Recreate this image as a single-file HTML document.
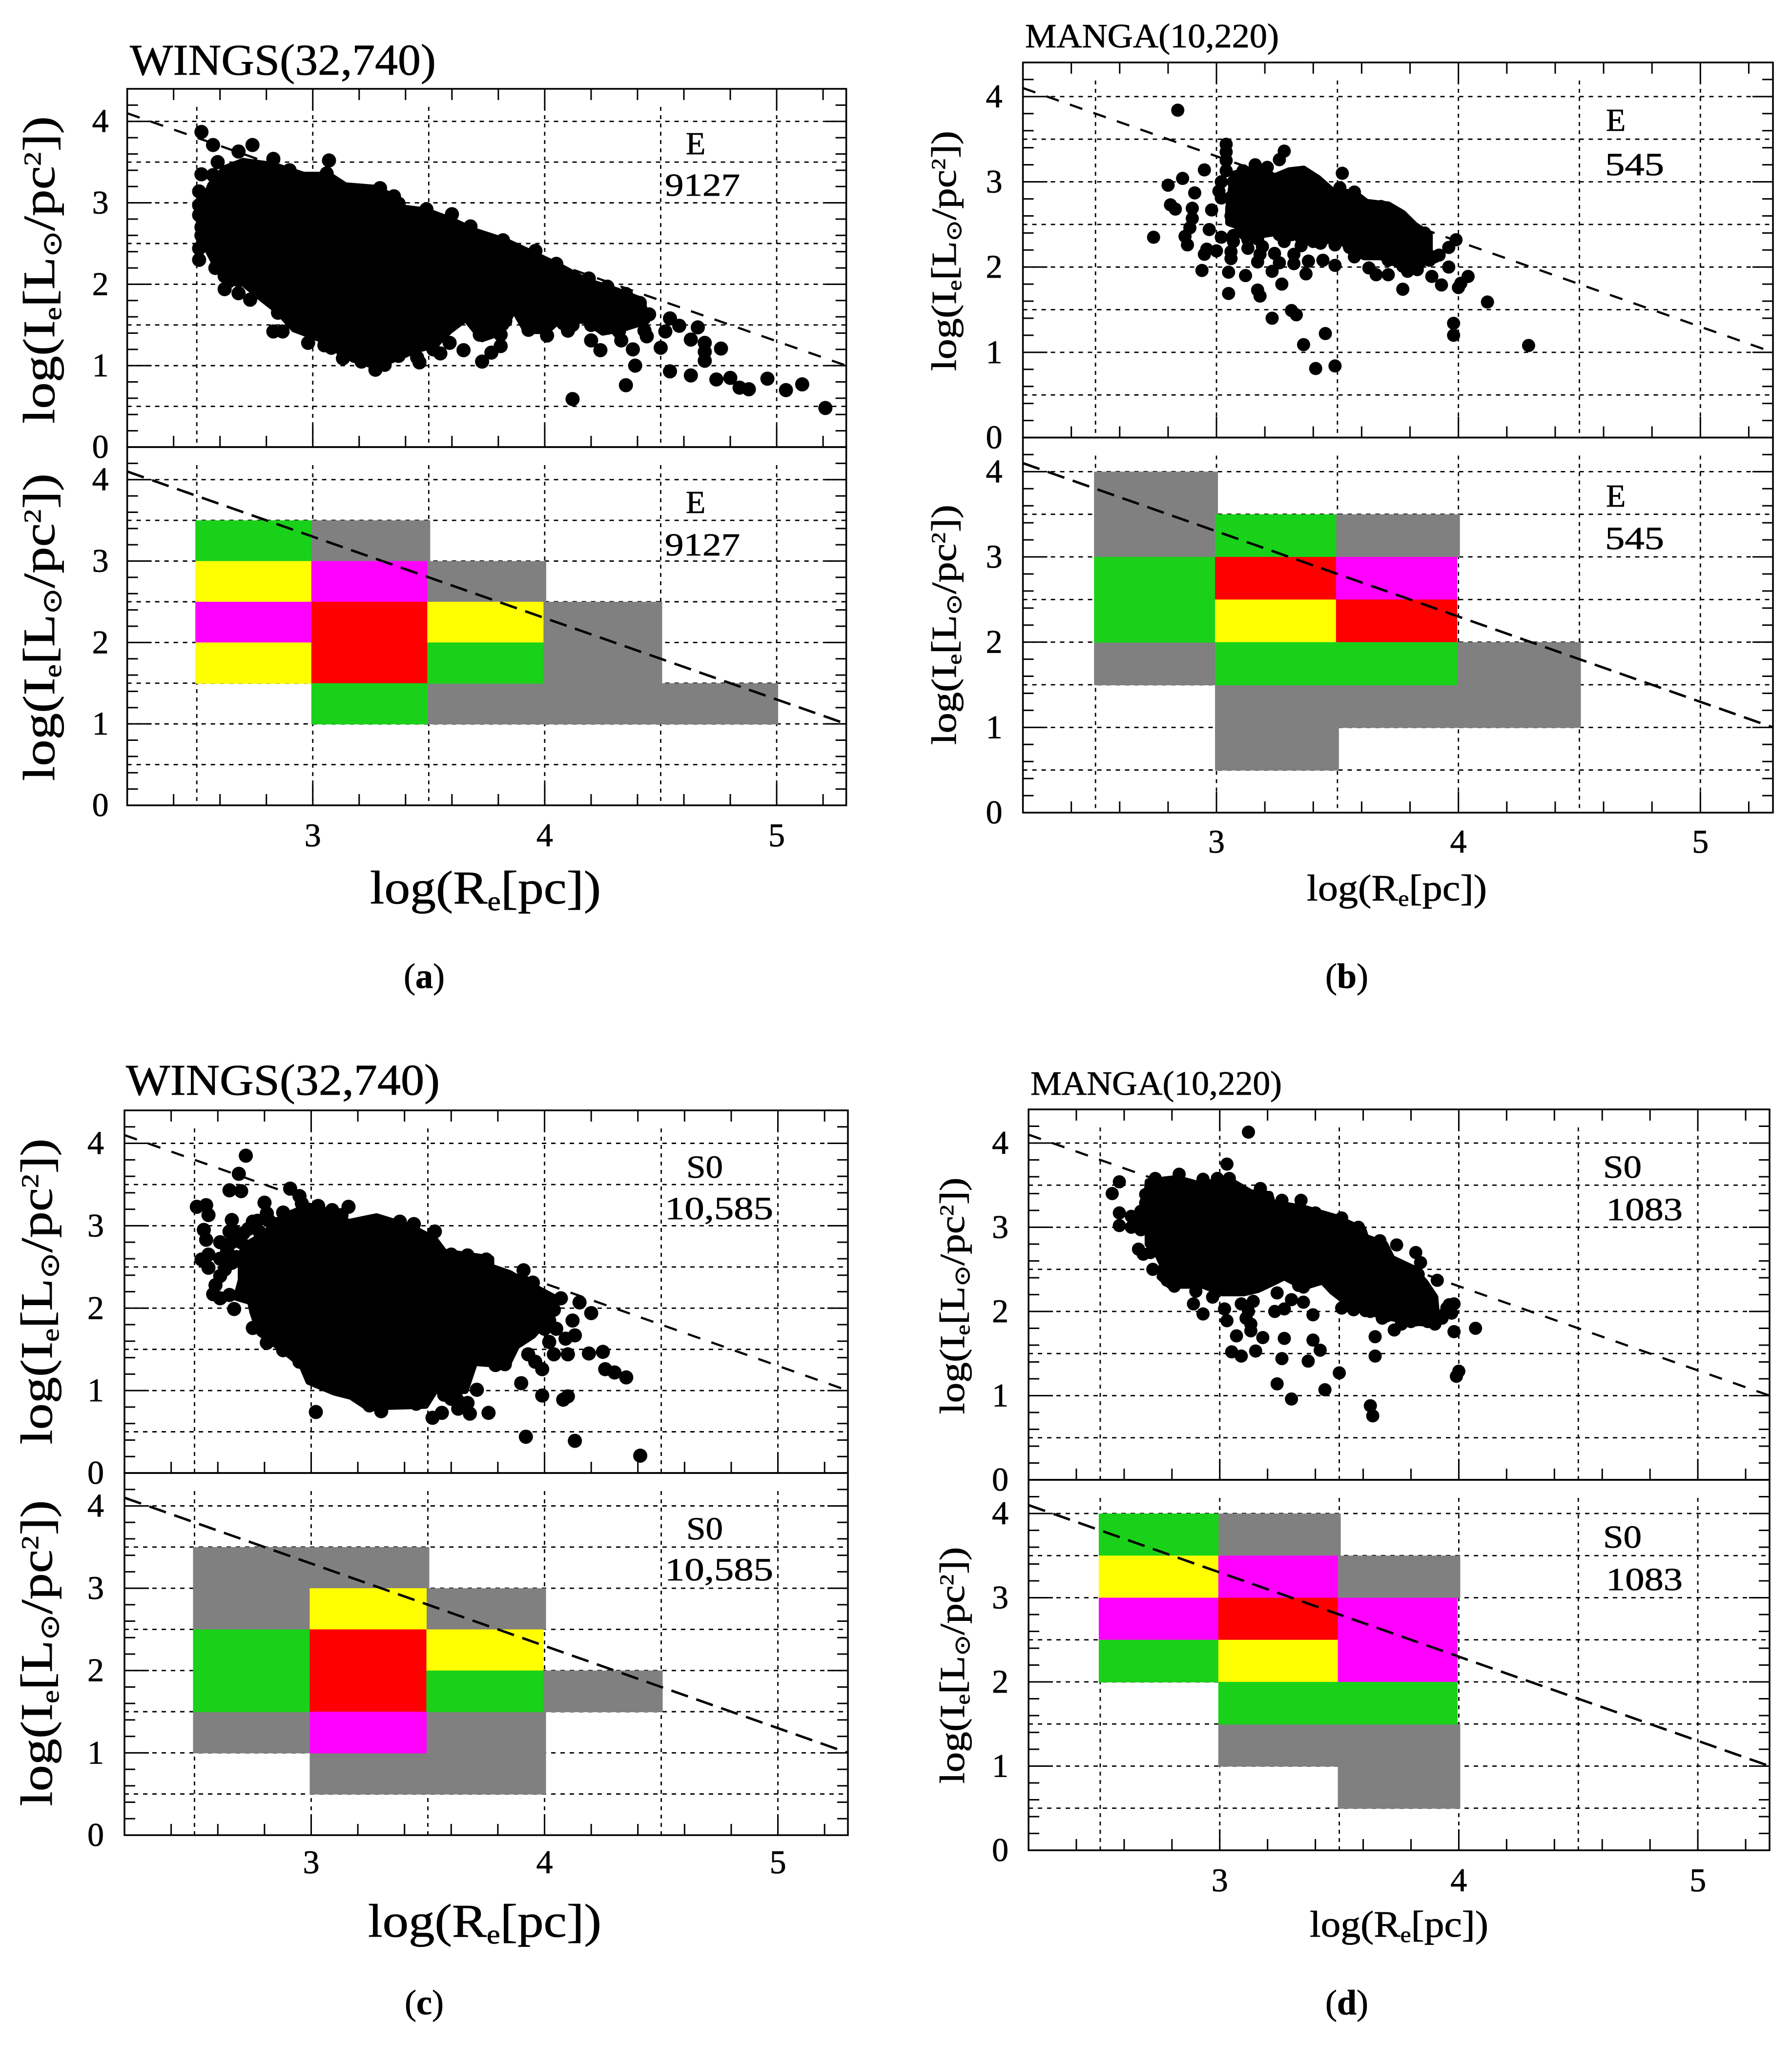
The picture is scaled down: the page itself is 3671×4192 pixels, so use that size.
<!DOCTYPE html>
<html lang="en">
<head>
<meta charset="utf-8">
<title>Surface brightness vs effective radius: WINGS and MANGA</title>
<style>
html,body{margin:0;padding:0;background:#fff}
svg{display:block}
text{font-family:"Liberation Serif","DejaVu Sans",serif;fill:#000;stroke:#000;stroke-width:0.8}
</style>
</head>
<body>
<svg id="figure" xmlns="http://www.w3.org/2000/svg" width="3671" height="4192" viewBox="0 0 3671 4192">
<rect x="0" y="0" width="3671" height="4192" fill="#fff"/>
<g id="plots"></g>

<g>
<text x="266" y="153" font-size="90" textLength="627" lengthAdjust="spacingAndGlyphs">WINGS(32,740)</text>
<text transform="translate(111,553) rotate(-90)" text-anchor="middle" font-size="92" textLength="630" lengthAdjust="spacingAndGlyphs">log(I<tspan font-size="52" dy="14">e</tspan><tspan dy="-14">[L</tspan><tspan font-size="54" dy="14">⊙</tspan><tspan dy="-14">/pc</tspan><tspan font-size="50" dy="-28">2</tspan><tspan dy="28">])</tspan></text>
<text transform="translate(111,1285) rotate(-90)" text-anchor="middle" font-size="92" textLength="630" lengthAdjust="spacingAndGlyphs">log(I<tspan font-size="52" dy="14">e</tspan><tspan dy="-14">[L</tspan><tspan font-size="54" dy="14">⊙</tspan><tspan dy="-14">/pc</tspan><tspan font-size="50" dy="-28">2</tspan><tspan dy="28">])</tspan></text>
<text x="758" y="1851" font-size="96" textLength="473" lengthAdjust="spacingAndGlyphs">log(R<tspan font-size="56" dy="14">e</tspan><tspan dy="-14">[pc])</tspan></text>
<text x="1405" y="316" font-size="66">E</text>
<text x="1362" y="401" font-size="66" textLength="154" lengthAdjust="spacingAndGlyphs">9127</text>
<text x="1405" y="1051" font-size="66">E</text>
<text x="1362" y="1138" font-size="66" textLength="154" lengthAdjust="spacingAndGlyphs">9127</text>
<text x="827" y="2024" font-size="72">(<tspan font-weight="bold">a</tspan>)</text>
</g>

<g>
<text x="2100" y="97" font-size="70" textLength="520" lengthAdjust="spacingAndGlyphs">MANGA(10,220)</text>
<text transform="translate(1958,514) rotate(-90)" text-anchor="middle" font-size="72" textLength="492" lengthAdjust="spacingAndGlyphs">log(I<tspan font-size="42" dy="11">e</tspan><tspan dy="-11">[L</tspan><tspan font-size="44" dy="11">⊙</tspan><tspan dy="-11">/pc</tspan><tspan font-size="40" dy="-22">2</tspan><tspan dy="22">])</tspan></text>
<text transform="translate(1958,1280) rotate(-90)" text-anchor="middle" font-size="72" textLength="492" lengthAdjust="spacingAndGlyphs">log(I<tspan font-size="42" dy="11">e</tspan><tspan dy="-11">[L</tspan><tspan font-size="44" dy="11">⊙</tspan><tspan dy="-11">/pc</tspan><tspan font-size="40" dy="-22">2</tspan><tspan dy="22">])</tspan></text>
<text x="2677" y="1845" font-size="76" textLength="369" lengthAdjust="spacingAndGlyphs">log(R<tspan font-size="46" dy="11">e</tspan><tspan dy="-11">[pc])</tspan></text>
<text x="3290" y="268" font-size="66">E</text>
<text x="3288" y="359" font-size="66" textLength="121" lengthAdjust="spacingAndGlyphs">545</text>
<text x="3290" y="1038" font-size="66">E</text>
<text x="3288" y="1125" font-size="66" textLength="121" lengthAdjust="spacingAndGlyphs">545</text>
<text x="2715" y="2024" font-size="72">(<tspan font-weight="bold">b</tspan>)</text>
</g>

<g>
<text x="258" y="2243" font-size="90" textLength="643" lengthAdjust="spacingAndGlyphs">WINGS(32,740)</text>
<text transform="translate(106,2646) rotate(-90)" text-anchor="middle" font-size="92" textLength="627" lengthAdjust="spacingAndGlyphs">log(I<tspan font-size="52" dy="14">e</tspan><tspan dy="-14">[L</tspan><tspan font-size="54" dy="14">⊙</tspan><tspan dy="-14">/pc</tspan><tspan font-size="50" dy="-28">2</tspan><tspan dy="28">])</tspan></text>
<text transform="translate(106,3387) rotate(-90)" text-anchor="middle" font-size="92" textLength="627" lengthAdjust="spacingAndGlyphs">log(I<tspan font-size="52" dy="14">e</tspan><tspan dy="-14">[L</tspan><tspan font-size="54" dy="14">⊙</tspan><tspan dy="-14">/pc</tspan><tspan font-size="50" dy="-28">2</tspan><tspan dy="28">])</tspan></text>
<text x="754" y="3968" font-size="96" textLength="478" lengthAdjust="spacingAndGlyphs">log(R<tspan font-size="56" dy="14">e</tspan><tspan dy="-14">[pc])</tspan></text>
<text x="1406" y="2413" font-size="66" textLength="75" lengthAdjust="spacingAndGlyphs">S0</text>
<text x="1362" y="2498" font-size="66" textLength="222" lengthAdjust="spacingAndGlyphs">10,585</text>
<text x="1406" y="3154" font-size="66" textLength="75" lengthAdjust="spacingAndGlyphs">S0</text>
<text x="1362" y="3238" font-size="66" textLength="222" lengthAdjust="spacingAndGlyphs">10,585</text>
<text x="829" y="4127" font-size="72">(<tspan font-weight="bold">c</tspan>)</text>
</g>

<g>
<text x="2111" y="2243" font-size="70" textLength="515" lengthAdjust="spacingAndGlyphs">MANGA(10,220)</text>
<text transform="translate(1975,2655) rotate(-90)" text-anchor="middle" font-size="72" textLength="485" lengthAdjust="spacingAndGlyphs">log(I<tspan font-size="42" dy="11">e</tspan><tspan dy="-11">[L</tspan><tspan font-size="44" dy="11">⊙</tspan><tspan dy="-11">/pc</tspan><tspan font-size="40" dy="-22">2</tspan><tspan dy="22">])</tspan></text>
<text transform="translate(1975,3412) rotate(-90)" text-anchor="middle" font-size="72" textLength="485" lengthAdjust="spacingAndGlyphs">log(I<tspan font-size="42" dy="11">e</tspan><tspan dy="-11">[L</tspan><tspan font-size="44" dy="11">⊙</tspan><tspan dy="-11">/pc</tspan><tspan font-size="40" dy="-22">2</tspan><tspan dy="22">])</tspan></text>
<text x="2683" y="3968" font-size="76" textLength="366" lengthAdjust="spacingAndGlyphs">log(R<tspan font-size="46" dy="11">e</tspan><tspan dy="-11">[pc])</tspan></text>
<text x="3284" y="2413" font-size="66" textLength="79" lengthAdjust="spacingAndGlyphs">S0</text>
<text x="3290" y="2500" font-size="66" textLength="157" lengthAdjust="spacingAndGlyphs">1083</text>
<text x="3284" y="3171" font-size="66" textLength="79" lengthAdjust="spacingAndGlyphs">S0</text>
<text x="3290" y="3258" font-size="66" textLength="157" lengthAdjust="spacingAndGlyphs">1083</text>
<text x="2715" y="4127" font-size="72">(<tspan font-weight="bold">d</tspan>)</text>
</g>
</svg>

<script>
/* ---------- shared axis data ---------- */
const xTickLabels = [3, 4, 5];
const yTickLabels = [0, 1, 2, 3, 4];
const xMinorTicks = [2.4, 2.6, 2.8, 3.2, 3.4, 3.6, 3.8, 4.2, 4.4, 4.6, 4.8, 5.2];
const yMinorTicks = [0.2, 0.4, 0.6, 0.8, 1.2, 1.4, 1.6, 1.8, 2.2, 2.4, 2.6, 2.8, 3.2, 3.4, 3.6, 3.8, 4.2];
const xGridValues = [2.5, 3, 3.5, 4, 4.5, 5];
const yGridValues = [0.5, 1, 1.5, 2, 2.5, 3, 3.5, 4];
const refLineX = [2.2, 5.3];
const refLineY = [4.1, 1.0];

/* ---------- panel (a) WINGS E ---------- */
const aCore = [[2.52,2.94],[2.56,3.22],[2.62,3.42],[2.70,3.51],[2.83,3.46],[2.96,3.34],[3.07,3.34],[3.14,3.21],[3.27,3.18],[3.35,3.07],[3.38,2.94],[3.49,2.90],[3.61,2.77],[3.70,2.65],[3.83,2.53],[3.96,2.36],[4.07,2.21],[4.18,2.04],[4.31,1.92],[4.42,1.80],[4.44,1.55],[4.33,1.45],[4.25,1.41],[4.18,1.55],[4.07,1.58],[4.01,1.43],[3.92,1.43],[3.88,1.63],[3.86,1.67],[3.83,1.48],[3.78,1.38],[3.73,1.33],[3.66,1.58],[3.59,1.43],[3.53,1.26],[3.44,1.19],[3.40,1.14],[3.27,0.99],[3.13,1.14],[3.05,1.31],[2.92,1.45],[2.85,1.67],[2.77,1.85],[2.66,2.11],[2.59,2.19],[2.55,2.41],[2.51,2.75]];
const aPoints = [[2.52,3.87],[2.57,3.71],[2.74,3.71],[2.68,3.63],[2.59,3.50],[2.83,3.54],[3.07,3.52],[2.52,3.35],[2.57,3.34],[2.51,3.14],[2.51,2.97],[2.51,2.85],[2.51,2.44],[2.51,2.30],[2.64,2.04],[2.62,1.94],[2.68,1.89],[2.73,1.81],[2.85,1.65],[2.83,1.42],[2.87,1.42],[2.98,1.28],[3.05,1.25],[3.13,1.09],[3.21,1.05],[3.27,0.95],[3.31,1.01],[3.37,1.12],[3.46,1.04],[3.55,1.15],[3.65,1.19],[3.59,1.28],[3.73,1.05],[3.77,1.16],[3.81,1.24],[3.81,1.38],[3.72,1.38],[3.93,1.44],[4.01,1.37],[4.10,1.43],[4.20,1.31],[4.24,1.19],[4.33,1.31],[4.38,1.20],[4.44,1.36],[4.50,1.22],[4.39,1.00],[4.35,0.76],[4.12,0.59],[4.54,0.93],[4.63,0.88],[4.74,0.83],[4.80,0.85],[4.84,0.73],[4.88,0.71],[4.96,0.84],[5.04,0.70],[5.11,0.77],[5.21,0.48],[4.76,1.21],[4.69,1.06],[4.69,1.17],[4.69,1.28],[4.63,1.32],[4.66,1.47],[4.54,1.58],[4.58,1.49],[4.52,1.42],[4.45,1.63],[4.43,1.43],[3.06,3.36],[3.29,3.18],[3.37,2.99],[3.49,2.92],[3.60,2.86],[3.68,2.71],[3.82,2.54],[3.96,2.41],[4.05,2.25],[4.19,2.07],[4.27,1.97],[4.35,1.88],[4.41,1.77],[4.27,1.48],[4.32,1.42],[4.20,1.50],[4.12,1.50],[3.83,1.55],[3.76,1.50],[2.57,3.05],[2.62,3.20],[2.65,3.30],[2.75,3.45],[2.90,3.40],[2.53,3.00],[2.52,2.70],[2.52,2.60],[2.53,2.50],[2.58,2.20],[2.62,2.10],[2.68,2.05],[3.35,3.08],[3.93,1.50],[4.00,1.50],[4.08,1.52],[3.18,1.12],[3.08,1.22],[3.45,1.10],[3.52,1.20]];
const aCellX = [2.5,2.5,2.5,2.5,3,3,3,3,3,3.5,3.5,3.5,3.5,4,4,4,4.5];
const aCellY = [3,2.5,2,1.5,3,2.5,2,1.5,1,2.5,2,1.5,1,2,1.5,1,1];
const aCellLevel = ['green','yellow','magenta','yellow','gray','magenta','red','red','green','gray','yellow','green','gray','gray','gray','gray','gray'];

/* ---------- panel (b) MANGA E ---------- */
const bCore = [[3.07,3.09],[3.17,3.17],[3.24,3.06],[3.30,3.13],[3.36,3.15],[3.42,3.04],[3.48,2.89],[3.57,2.87],[3.62,2.76],[3.71,2.73],[3.77,2.63],[3.82,2.49],[3.88,2.38],[3.88,2.16],[3.84,1.99],[3.75,2.03],[3.68,2.12],[3.61,2.12],[3.54,2.23],[3.50,2.38],[3.45,2.30],[3.36,2.43],[3.33,2.41],[3.26,2.41],[3.19,2.38],[3.12,2.45],[3.05,2.52],[3.05,2.69]];
const bPoints = [[2.84,3.84],[2.95,3.14],[2.86,3.04],[2.80,2.96],[2.91,2.87],[2.81,2.73],[2.83,2.68],[2.74,2.35],[3.04,3.44],[3.04,3.35],[3.04,3.25],[3.04,3.13],[3.02,3.00],[3.01,2.89],[3.02,2.81],[3.28,3.36],[3.26,3.26],[3.16,3.20],[3.21,3.17],[3.52,3.10],[3.51,2.93],[3.57,2.88],[3.68,2.71],[3.75,2.62],[3.86,2.40],[3.99,2.32],[3.96,2.23],[3.92,2.14],[3.96,2.00],[4.04,1.89],[4.01,1.81],[4.00,1.76],[3.93,1.79],[3.89,1.89],[3.77,1.74],[4.12,1.59],[3.98,1.34],[3.98,1.20],[4.29,1.08],[3.49,0.84],[3.41,0.81],[3.45,1.22],[3.36,1.09],[3.23,1.40],[3.31,1.49],[3.33,1.44],[3.05,1.69],[3.17,1.73],[3.18,1.66],[3.27,1.80],[3.12,1.90],[3.05,1.94],[2.94,1.96],[3.23,1.95],[3.37,1.92],[3.49,2.02],[3.44,2.08],[3.38,2.07],[3.32,2.04],[3.32,2.15],[3.26,2.05],[3.17,2.06],[3.18,2.15],[3.06,2.10],[3.06,2.18],[3.13,2.22],[3.19,2.24],[3.28,2.30],[3.24,2.16],[2.95,2.15],[2.96,2.21],[3.00,2.19],[2.88,2.26],[2.87,2.36],[2.89,2.46],[2.97,2.44],[3.02,2.35],[3.07,2.37],[2.90,2.57],[2.90,2.69],[2.98,2.67],[3.06,2.60],[3.49,2.26],[3.35,2.25],[3.43,2.28],[3.57,2.12],[3.63,1.99],[3.66,1.91],[3.71,1.91],[3.79,1.95],[3.71,2.08],[3.55,2.23],[3.83,2.05],[3.90,2.12],[3.12,2.38],[3.17,2.33],[3.26,2.38],[3.38,2.36],[3.60,2.20],[3.78,2.05],[3.10,2.47],[3.16,2.38],[3.31,2.38],[3.35,2.34],[3.40,2.30],[3.54,2.34],[3.57,2.21],[3.62,2.23],[3.66,2.30],[3.72,2.30],[3.77,2.34],[3.82,2.30],[3.84,2.16],[3.79,2.08],[3.75,2.12],[3.71,2.19],[3.13,2.32],[3.07,2.30],[3.83,1.97],[3.77,2.01],[3.88,2.08],[3.11,3.13],[3.07,3.00],[3.06,2.82]];
const bCellX = [2.5,2.5,2.5,2.5,2.5,3,3,3,3,3,3,3.5,3.5,3.5,3.5,3.5,4,4];
const bCellY = [3.5,3,2.5,2,1.5,3,2.5,2,1.5,1,0.5,3,2.5,2,1.5,1,1.5,1];
const bCellLevel = ['gray','gray','green','green','gray','green','red','yellow','green','gray','gray','gray','magenta','red','green','gray','gray','gray'];

/* ---------- panel (c) WINGS S0 ---------- */
const cCore = [[2.70,2.60],[2.71,2.75],[2.79,2.88],[2.88,3.11],[2.99,3.24],[3.09,3.16],[3.16,3.04],[3.28,3.11],[3.43,2.98],[3.53,2.83],[3.57,2.68],[3.77,2.60],[3.77,2.50],[3.85,2.42],[3.92,2.31],[4.02,2.16],[4.04,2.13],[4.00,1.83],[3.95,1.67],[3.88,1.54],[3.84,1.31],[3.70,1.34],[3.66,1.00],[3.53,1.00],[3.49,0.82],[3.24,0.80],[3.17,0.93],[3.10,0.98],[2.99,1.11],[2.96,1.31],[2.89,1.47],[2.78,1.70],[2.75,1.95],[2.74,2.08],[2.68,2.13],[2.70,2.34]];
const cPoints = [[2.72,3.85],[2.69,3.63],[2.65,3.43],[2.70,3.42],[2.91,3.45],[2.95,3.36],[2.51,3.23],[2.55,3.25],[2.56,3.13],[2.54,2.95],[2.55,2.83],[2.53,2.59],[2.56,2.49],[2.66,3.07],[2.65,2.93],[2.80,3.28],[2.81,3.15],[2.75,3.05],[3.16,3.23],[3.13,3.13],[3.29,3.05],[3.38,3.05],[3.44,3.02],[3.53,2.93],[3.24,3.04],[3.60,2.65],[3.67,2.64],[3.75,2.59],[3.91,2.46],[3.90,2.34],[3.95,2.31],[4.07,2.12],[4.15,2.07],[4.20,1.94],[4.04,1.98],[4.12,1.85],[4.13,1.67],[4.09,1.63],[4.02,1.59],[4.04,1.44],[4.10,1.44],[4.19,1.45],[4.25,1.47],[4.26,1.26],[4.30,1.22],[4.35,1.16],[3.93,1.44],[3.96,1.35],[3.99,1.26],[3.90,1.09],[3.99,0.94],[4.08,0.89],[4.10,0.93],[3.92,0.44],[4.13,0.39],[4.41,0.21],[3.71,1.01],[3.76,0.73],[3.68,0.72],[3.56,0.73],[3.52,0.67],[3.30,0.75],[3.02,0.74],[3.83,1.32],[3.25,0.82],[3.45,0.84],[3.67,0.85],[3.62,0.92],[2.67,1.99],[2.58,2.17],[2.61,2.12],[2.65,2.16],[2.59,2.28],[2.61,2.39],[2.75,1.76],[2.81,1.58],[2.88,1.49],[2.95,1.35],[3.00,1.18],[3.10,1.03],[2.70,2.80],[2.78,2.92],[2.85,3.02],[2.68,2.62],[4.00,1.75],[4.02,1.85],[4.05,1.75],[2.61,2.80],[2.64,2.70],[2.67,2.93],[2.71,2.91],[2.73,2.96],[2.77,3.06],[2.82,3.06],[2.88,3.16],[2.61,2.60],[2.66,2.55],[2.63,2.47],[2.56,2.65],[2.66,2.80],[2.96,3.27],[3.03,3.24],[3.09,3.19],[3.60,0.90],[3.64,0.85],[3.57,0.95],[3.79,1.31],[3.63,0.78]];
const cCellX = [2.5,2.5,2.5,2.5,2.5,3,3,3,3,3,3,3.5,3.5,3.5,3.5,3.5,4];
const cCellY = [3,2.5,2,1.5,1,3,2.5,2,1.5,1,0.5,2.5,2,1.5,1,0.5,1.5];
const cCellLevel = ['gray','gray','green','green','gray','gray','yellow','red','red','magenta','gray','gray','yellow','green','gray','gray','gray'];

/* ---------- panel (d) MANGA S0 ---------- */
const dCore = [[2.69,3.14],[2.70,3.54],[2.82,3.58],[2.91,3.51],[3.04,3.56],[3.13,3.41],[3.21,3.39],[3.22,3.29],[3.36,3.22],[3.48,3.12],[3.60,2.97],[3.61,2.88],[3.69,2.80],[3.72,2.63],[3.81,2.51],[3.86,2.34],[3.90,2.17],[3.91,1.85],[3.82,1.87],[3.76,1.90],[3.68,1.95],[3.56,2.04],[3.47,2.24],[3.43,2.36],[3.35,2.29],[3.27,2.41],[3.22,2.34],[3.16,2.26],[3.10,2.22],[3.01,2.22],[2.93,2.31],[2.86,2.31],[2.79,2.31],[2.75,2.41],[2.76,2.56],[2.74,2.68],[2.70,2.80],[2.70,2.95]];
const dPoints = [[3.12,4.13],[3.03,3.75],[2.58,3.54],[2.55,3.40],[2.58,3.17],[2.58,3.02],[2.63,3.13],[2.66,2.74],[2.68,2.68],[2.72,2.50],[2.73,3.58],[2.83,3.63],[2.93,3.57],[2.99,3.58],[3.04,3.58],[3.17,3.46],[3.26,3.32],[3.34,3.32],[3.40,3.17],[3.51,3.11],[3.58,3.00],[3.67,2.84],[3.74,2.79],[3.82,2.70],[3.84,2.58],[3.91,2.37],[3.83,2.44],[3.96,2.08],[3.98,1.76],[4.07,1.80],[3.73,1.78],[3.76,1.85],[3.68,1.92],[3.65,1.70],[3.65,1.47],[4.00,1.29],[3.99,1.23],[3.63,0.88],[3.64,0.76],[3.44,1.07],[3.30,0.96],[3.24,1.14],[3.50,1.27],[3.37,1.41],[3.26,1.44],[3.09,1.47],[3.05,1.52],[3.15,1.53],[3.07,1.71],[3.18,1.69],[3.27,1.68],[3.39,1.66],[3.42,1.54],[3.39,1.96],[3.35,2.11],[3.27,2.03],[3.23,2.00],[3.30,2.14],[3.24,2.22],[3.13,1.77],[3.11,1.92],[3.09,2.09],[3.14,2.12],[3.03,1.89],[3.02,2.03],[2.93,1.97],[2.89,2.09],[2.90,2.24],[2.97,2.17],[2.81,2.30],[2.78,2.37],[3.51,2.04],[3.61,2.01],[3.33,2.31],[3.97,1.98],[3.93,1.95],[3.87,1.88],[3.80,1.88],[3.12,2.00],[3.13,1.85],[3.95,2.04],[3.93,1.92],[3.90,1.85],[3.82,1.90],[3.77,1.92],[3.70,1.95],[3.63,2.00],[3.56,2.02],[3.98,2.09],[2.67,3.19],[2.66,3.05],[2.63,3.00],[2.67,2.97],[2.69,3.39],[2.69,3.29],[2.71,2.70],[2.78,2.44],[3.01,2.29],[3.06,2.26],[3.33,2.39],[3.35,2.29]];
const dCellX = [2.5,2.5,2.5,2.5,3,3,3,3,3,3,3.5,3.5,3.5,3.5,3.5,3.5];
const dCellY = [3.5,3,2.5,2,3.5,3,2.5,2,1.5,1,3,2.5,2,1.5,1,0.5];
const dCellLevel = ['green','yellow','magenta','green','gray','magenta','red','yellow','green','gray','gray','magenta','magenta','green','gray','gray'];

/* ---------- drawing ---------- */
const SVG_NS = 'http://www.w3.org/2000/svg';
const levelColor = {gray:'#808080', green:'#19d119', yellow:'#ffff00', magenta:'#ff00ff', red:'#ff0000'};
const plots = document.getElementById('plots');
const X_MIN = 2.2, X_MAX = 5.3, Y_MAX = 4.4, CELL_SIZE = 0.5;

function make(tag, attrs, parent) {
  const el = document.createElementNS(SVG_NS, tag);
  for (const k in attrs) el.setAttribute(k, attrs[k]);
  parent.appendChild(el);
  return el;
}
function xAxis(p) { return v => p.left + (v - X_MIN) / (X_MAX - X_MIN) * (p.right - p.left); }
function yAxis(top, bottom) { return v => bottom - v / Y_MAX * (bottom - top); }

function drawGridAndTicks(g, p, sx, sy, top, bottom, isUpper) {
  xGridValues.forEach(v => {
    const ln = make('line', {x1:sx(v), x2:sx(v), y1:top + 37, y2:bottom, stroke:'#000', 'stroke-width':2.8, 'stroke-dasharray':'8 9'}, g);
    
    
  });
  yGridValues.forEach(v => {
    const ln = make('line', {x1:p.left, x2:p.right, y1:sy(v), y2:sy(v), stroke:'#000', 'stroke-width':2.8, 'stroke-dasharray':'9 10'}, g);
    
    
  });
  xTickLabels.forEach(v => {
    if (isUpper) {
      const t = make('line', {x1:sx(v), x2:sx(v), y1:top, y2:top + 43, stroke:'#000', 'stroke-width':3}, g);
      
      
    }
    const b = make('line', {x1:sx(v), x2:sx(v), y1:bottom - 43, y2:bottom, stroke:'#000', 'stroke-width':3}, g);
    
    
  });
  xMinorTicks.forEach(v => {
    if (isUpper) {
      const t = make('line', {x1:sx(v), x2:sx(v), y1:top, y2:top + 23, stroke:'#000', 'stroke-width':3}, g);
      
      
    }
    const b = make('line', {x1:sx(v), x2:sx(v), y1:bottom - 23, y2:bottom, stroke:'#000', 'stroke-width':3}, g);
    
    
  });
  yTickLabels.forEach(v => {
    const l = make('line', {x1:p.left, x2:p.left + 50, y1:sy(v), y2:sy(v), stroke:'#000', 'stroke-width':3}, g);
    
    
    const r = make('line', {x1:p.right - 42, x2:p.right, y1:sy(v), y2:sy(v), stroke:'#000', 'stroke-width':3}, g);
    
    
    const lab = make('text', {x:p.left - p.yLabelGap, y:sy(v) + 22, 'text-anchor':'middle', 'font-size':68}, g);
    lab.textContent = String(v);
    
    
  });
  yMinorTicks.forEach(v => {
    const l = make('line', {x1:p.left, x2:p.left + 22, y1:sy(v), y2:sy(v), stroke:'#000', 'stroke-width':3}, g);
    
    
    const r = make('line', {x1:p.right - 22, x2:p.right, y1:sy(v), y2:sy(v), stroke:'#000', 'stroke-width':3}, g);
    
    
  });
}

function drawRefLine(g, sx, sy, width, dash) {
  const ln = make('line', {x1:sx(refLineX[0]), y1:sy(refLineY[0]), x2:sx(refLineX[1]), y2:sy(refLineY[1]), stroke:'#000', 'stroke-width':width, 'stroke-dasharray':dash}, g);
  
  
}

function drawFrame(g, p, top, bottom) {
  const f = make('rect', {x:p.left, y:top, width:p.right - p.left, height:bottom - top, fill:'none', stroke:'#000', 'stroke-width':3.5}, g);
  
  
}

function drawCells(g, sx, sy, cellX, cellY, cellLevel) {
  const order = cellX.map((_, i) => i).sort((a, b) => (cellLevel[b] === 'gray') - (cellLevel[a] === 'gray'));
  order.forEach(i => {
    const gray = cellLevel[i] === 'gray';
    const x0 = sx(cellX[i]) - 3;
    const x1 = sx(cellX[i] + CELL_SIZE) + (gray ? 3 : -2.5);
    const y0 = sy(cellY[i] + CELL_SIZE);
    const y1 = sy(cellY[i]);
    const c = make('rect', {x:x0, y:y0, width:x1 - x0, height:y1 - y0 + 1, fill:levelColor[cellLevel[i]]}, g);
    
    
  });
}

function drawScatter(g, sx, sy, core, points, radius) {
  const poly = make('polygon', {points:core.map(d => sx(d[0]) + ',' + sy(d[1])).join(' '), fill:'#000', stroke:'#000', 'stroke-width':14, 'stroke-linejoin':'round'}, g);
  
  
  points.forEach(d => {
    const c = make('circle', {cx:sx(d[0]), cy:sy(d[1]), r:radius, fill:'#000'}, g);
    
    
  });
}

function drawPanel(p) {
  const g = make('g', {}, plots);
  
  
  const sx = xAxis(p);
  const sUp = yAxis(p.top, p.mid);
  const sLo = yAxis(p.mid, p.bottom);

  const upper = make('g', {}, g);
  
  
  drawGridAndTicks(upper, p, sx, sUp, p.top, p.mid, true);
  drawScatter(upper, sx, sUp, p.core, p.points, p.radius);
  drawRefLine(upper, sx, sUp, 4.5, '27 24');

  const lower = make('g', {}, g);
  
  
  drawGridAndTicks(lower, p, sx, sLo, p.mid, p.bottom, false);
  drawCells(lower, sx, sLo, p.cellX, p.cellY, p.cellLevel);
  drawRefLine(lower, sx, sLo, 5, '36 18');

  drawFrame(upper, p, p.top, p.mid);
  drawFrame(lower, p, p.mid, p.bottom);

  xTickLabels.forEach(v => {
    const t = make('text', {x:sx(v), y:p.bottom + p.xLabelGap, 'text-anchor':'middle', 'font-size':68}, g);
    t.textContent = String(v);
    
    
  });
}

drawPanel({id:'a', left:260.6, right:1733.6, top:182, mid:916, bottom:1650, yLabelGap:55, xLabelGap:84, radius:14.5, core:aCore, points:aPoints, cellX:aCellX, cellY:aCellY, cellLevel:aCellLevel});
drawPanel({id:'b', left:2095.5, right:3632, top:128, mid:896.5, bottom:1665, yLabelGap:59, xLabelGap:82, radius:13.5, core:bCore, points:bPoints, cellX:bCellX, cellY:bCellY, cellLevel:bCellLevel});
drawPanel({id:'c', left:255, right:1737, top:2275, mid:3018, bottom:3760, yLabelGap:59, xLabelGap:78, radius:14.5, core:cCore, points:cPoints, cellX:cCellX, cellY:cCellY, cellLevel:cCellLevel});
drawPanel({id:'d', left:2107, right:3625, top:2273, mid:3032, bottom:3791, yLabelGap:58, xLabelGap:84, radius:13.5, core:dCore, points:dPoints, cellX:dCellX, cellY:dCellY, cellLevel:dCellLevel});
</script>
</body>
</html>
